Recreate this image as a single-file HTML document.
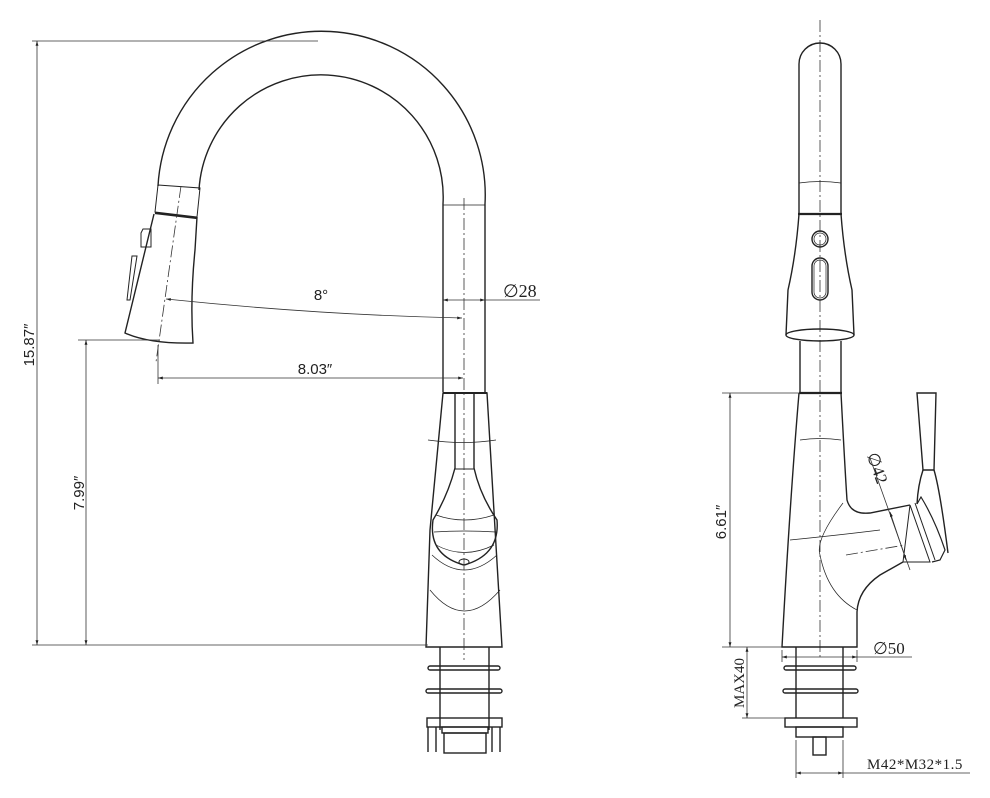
<!DOCTYPE html>
<html><head><meta charset="utf-8"><style>
html,body{margin:0;padding:0;background:#fff;}
svg{display:block;}
text{font-family:"Liberation Sans",sans-serif;fill:#222;}
.s{font-family:"Liberation Serif",serif;}
</style></head><body>
<svg width="990" height="798" viewBox="0 0 990 798" xmlns="http://www.w3.org/2000/svg">
<defs>
<marker id="a" viewBox="0 0 10 10" refX="10" refY="5" markerWidth="8" markerHeight="6" orient="auto-start-reverse"><path d="M0,2 L10,5 L0,8 z" fill="#222"/></marker>
</defs>
<g fill="none" stroke="#222" stroke-width="1.4">
<path d="M158,186 A163,163 0 0 1 485,204 L485,392"/>
<path d="M199,190 A121,121 0 0 1 443,204 L443,392"/>
<line x1="443" y1="205" x2="485" y2="205" stroke-width="0.8"/>
<path d="M158,185 L200,188 L197,217 L155,212 Z" stroke-width="1"/>
<line x1="155" y1="213" x2="197" y2="218" stroke-width="2.2"/>
<path d="M154,214 L125,333 Q150,344 193,343 Q190,300 195,250 L197,217"/>
<path d="M141,233 L143,229 L151,229 L151,247 L141,247 Z" stroke-width="1"/>
<path d="M137,256 L132,256 L127,300 L130,300 Z" stroke-width="1"/>
<path d="M443,393 L487,393 L502,647 L426,647 L430,530 Z"/>
<line x1="443" y1="393" x2="487" y2="393" stroke-width="2"/>
<path d="M455,393 L474,393 L474,468 Q480,495 497,520 Q500,555 464,565 Q428,555 433,520 Q448,495 455,468 Z"/>
<line x1="455" y1="469" x2="474" y2="469" stroke-width="1"/>
<g stroke-width="0.7">
<path d="M436,515 Q464,525 494,515"/>
<path d="M434,532 Q464,530 496,532"/>
<path d="M436,545 Q464,560 494,545"/>
<path d="M432,555 Q464,585 497,555"/>
<path d="M430,590 Q464,632 500,590"/>
<path d="M428,440 Q464,445 496,440"/>
</g>
<ellipse cx="464" cy="562" rx="5" ry="3" stroke-width="1"/>
<path d="M440,647 L440,730 M489,647 L489,730"/>
<rect x="428" y="666" width="72" height="4" rx="2"/>
<rect x="426" y="689" width="76" height="4" rx="2"/>
<rect x="427" y="718" width="75" height="9"/>
<rect x="442" y="727" width="46" height="6"/>
<rect x="444" y="733" width="42" height="20"/>
<path d="M428,727 L428,752 M436,727 L436,752 M492,727 L492,752 M500,727 L500,752"/>
</g>
<g stroke="#333" stroke-width="0.8" fill="none" stroke-dasharray="12,3,2,3">
<line x1="464" y1="198" x2="464" y2="660"/>
<line x1="181" y1="186" x2="156" y2="362"/>
<line x1="820" y1="20" x2="820" y2="660"/>
<line x1="846" y1="555" x2="905" y2="545"/>
</g>
<g stroke="#333" stroke-width="0.8" fill="none">
<line x1="32" y1="41" x2="318" y2="41"/>
<line x1="32" y1="645" x2="428" y2="645"/>
<line x1="37" y1="41" x2="37" y2="645" marker-start="url(#a)" marker-end="url(#a)"/>
<line x1="78" y1="340" x2="160" y2="340"/>
<line x1="86" y1="340" x2="86" y2="645" marker-start="url(#a)" marker-end="url(#a)"/>
<line x1="158" y1="345" x2="158" y2="384"/>
<line x1="158" y1="378" x2="463" y2="378" marker-start="url(#a)" marker-end="url(#a)"/>
<path d="M166,299 Q320,315 462,318" marker-start="url(#a)" marker-end="url(#a)"/>
<line x1="443" y1="300" x2="485" y2="300" marker-start="url(#a)" marker-end="url(#a)"/>
<line x1="485" y1="300" x2="540" y2="300"/>
</g>
<text font-size="15" transform="translate(34,345) rotate(-90)" text-anchor="middle">15.87″</text>
<text font-size="15" transform="translate(84,493) rotate(-90)" text-anchor="middle">7.99″</text>
<text x="321" y="300" font-size="15" text-anchor="middle">8°</text>
<text x="315" y="374" font-size="15" text-anchor="middle">8.03″</text>
<text x="503" y="297" font-size="18" class="s">∅28</text>

<g fill="none" stroke="#222" stroke-width="1.4">
<path d="M799,183 L799,64 A21,21 0 0 1 841,64 L841,183"/>
<path d="M799,183 Q820,180 841,183" stroke-width="0.8"/>
<path d="M799,183 L799,213 M841,183 L841,213"/>
<line x1="798" y1="214" x2="842" y2="214" stroke-width="2.2"/>
<path d="M799,214 Q796,255 788,290 L786,335 M841,214 Q844,255 852,290 L854,335"/>
<ellipse cx="820" cy="335" rx="34" ry="6"/>
<circle cx="820" cy="239" r="8"/>
<circle cx="820" cy="239" r="6" stroke-width="0.7"/>
<rect x="812" y="258" width="16" height="42" rx="8"/>
<rect x="814" y="260" width="12" height="38" rx="6" stroke-width="0.7"/>
<path d="M800,341 L800,393 M841,341 L841,393"/>
<line x1="799" y1="393" x2="842" y2="393" stroke-width="2.2"/>
<path d="M799,393 Q790,500 782,647 L857,647 L857,612 Q858,590 880,575 L903,562"/>
<path d="M841,393 Q845,470 847,500 Q851,515 870,513 L910,505"/>
<path d="M910,505 L930,562 L903,562 Z" stroke-width="1"/>
<path d="M915,503 L935,560" stroke-width="1"/>
<path d="M917,504 L921,497 Q935,520 945,550 L940,560 L932,562" stroke-width="1.2"/>
<path d="M917,393 L936,393 L934,470 L923,470 Z"/>
<path d="M923,470 Q918,485 917,504 M934,470 Q940,490 948,553"/>
<path d="M800,440 Q820,437 841,440" stroke-width="0.7"/>
<path d="M843,503 Q815,540 820,555 Q828,595 857,610" stroke-width="0.7"/>
<path d="M790,540 Q840,535 880,530" stroke-width="0.7"/>
<path d="M796,647 L796,718 M843,647 L843,718"/>
<rect x="784" y="666" width="72" height="4" rx="2"/>
<rect x="783" y="689" width="75" height="4" rx="2"/>
<rect x="785" y="718" width="72" height="9"/>
<rect x="796" y="727" width="47" height="10"/>
<rect x="813" y="737" width="13" height="18"/>
</g>
<g stroke="#333" stroke-width="0.8" fill="none">
<line x1="722" y1="393" x2="800" y2="393"/>
<line x1="722" y1="647" x2="782" y2="647"/>
<line x1="730" y1="393" x2="730" y2="647" marker-start="url(#a)" marker-end="url(#a)"/>
<line x1="742" y1="718" x2="785" y2="718"/>
<line x1="747" y1="647" x2="747" y2="718" marker-start="url(#a)" marker-end="url(#a)"/>
<line x1="782" y1="650" x2="782" y2="662"/>
<line x1="857" y1="650" x2="857" y2="662"/>
<line x1="782" y1="657" x2="857" y2="657" marker-start="url(#a)" marker-end="url(#a)"/>
<line x1="857" y1="657" x2="912" y2="657"/>
<line x1="870" y1="458" x2="910" y2="570"/>
<line x1="890" y1="512" x2="906" y2="560" marker-start="url(#a)" marker-end="url(#a)"/>
<line x1="796" y1="740" x2="796" y2="778"/>
<line x1="843" y1="740" x2="843" y2="778"/>
<line x1="796" y1="773" x2="843" y2="773" marker-start="url(#a)" marker-end="url(#a)"/>
<line x1="843" y1="773" x2="970" y2="773"/>
</g>
<text font-size="15" transform="translate(726,522) rotate(-90)" text-anchor="middle">6.61″</text>
<text font-size="15" class="s" transform="translate(744,683) rotate(-90)" text-anchor="middle">MAX40</text>
<text font-size="17" class="s" transform="translate(872,470) rotate(70)" text-anchor="middle">∅42</text>
<text x="873" y="654" font-size="17" class="s">∅50</text>
<text x="867" y="769" font-size="15" class="s" letter-spacing="0.5">M42*M32*1.5</text>
</svg>
</body></html>
